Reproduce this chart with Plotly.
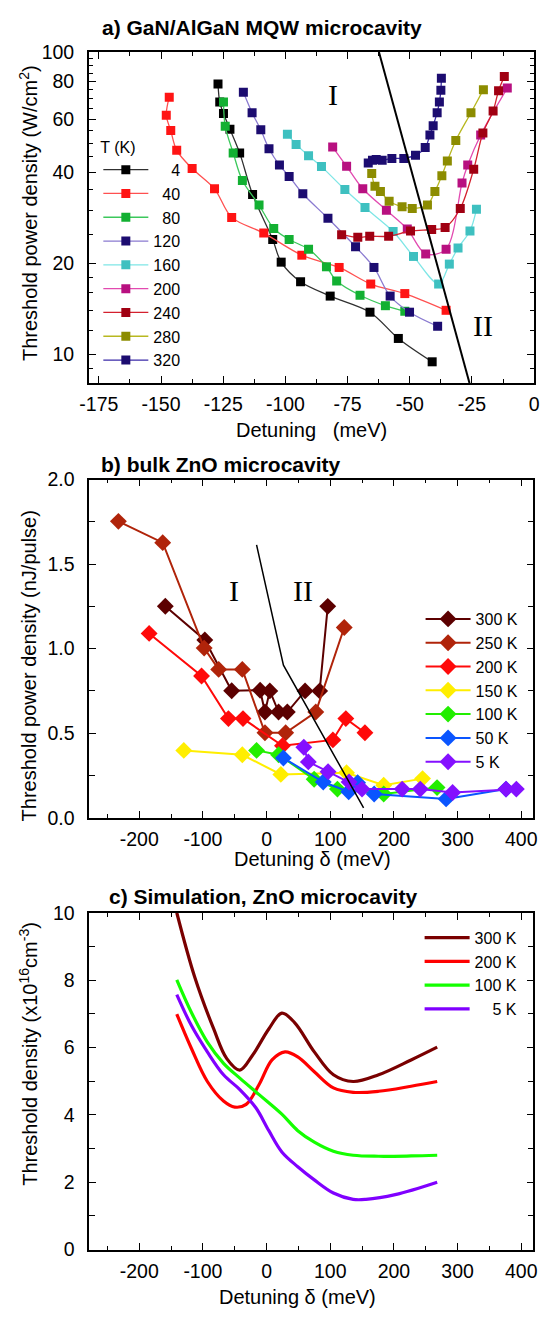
import math
import plotly.graph_objects as go

# ---------------- Panel a data (GaN/AlGaN MQW) ----------------
a_labels = ["\u2007\u20074", "\u200740", "\u200780", "120", "160", "200", "240", "280", "320"]
a_x = [
    [-127.1, -126.4, -124.9, -122.3, -118.4, -113.2, -105.1, -101.7, -93.9, -82.0, -66.0, -54.6, -41.0],
    [-146.7, -147.9, -146.1, -143.7, -137.5, -128.5, -121.6, -108.7, -93.4, -78.4, -65.7, -52.0, -35.4],
    [-124.9, -124.2, -121.0, -117.3, -110.6, -104.7, -98.5, -90.7, -83.5, -79.4, -70.0, -59.8, -52.0],
    [-116.9, -113.4, -109.9, -106.6, -102.4, -98.5, -93.0, -82.9, -71.8, -64.4, -57.9, -50.1, -38.8],
    [-99.2, -95.7, -90.7, -85.5, -76.1, -68.0, -56.7, -48.5, -38.4, -34.1, -30.6, -25.8, -23.2],
    [-81.0, -75.4, -68.9, -59.4, -51.0, -43.6, -35.4, -29.0, -26.7, -21.5, -10.8],
    [-77.4, -70.9, -66.1, -58.5, -49.7, -41.2, -35.8, -29.7, -24.3, -20.6, -16.5, -14.3, -12.0],
    [-65.3, -64.0, -61.8, -58.3, -53.1, -49.0, -42.9, -39.9, -37.1, -34.9, -31.5, -25.4, -20.4],
    [-66.7, -65.0, -63.5, -61.1, -57.2, -52.4, -47.7, -43.8, -41.9, -40.6, -39.0, -38.1, -37.5, -37.3],
]
a_y = [
    [78.4, 68.3, 62.6, 55.6, 46.4, 33.8, 24.0, 20.2, 17.4, 15.6, 13.8, 11.3, 9.46],
    [70.9, 61.8, 55.0, 47.3, 41.2, 35.3, 28.4, 25.2, 21.3, 19.4, 17.1, 15.9, 14.0],
    [68.3, 56.8, 46.4, 37.6, 31.2, 26.1, 24.0, 22.3, 19.5, 17.5, 15.7, 14.5, 13.9],
    [73.6, 63.0, 55.3, 47.9, 42.3, 38.8, 34.0, 28.2, 22.7, 19.4, 15.6, 13.8, 12.4],
    [53.5, 49.5, 45.4, 41.8, 35.1, 30.6, 25.5, 21.1, 17.1, 19.9, 22.5, 25.6, 30.2],
    [48.5, 41.9, 35.3, 30.0, 26.0, 21.5, 22.3, 36.9, 42.3, 53.2, 76.0],
    [24.9, 24.4, 24.6, 24.6, 25.6, 25.9, 26.3, 30.4, 41.0, 54.0, 63.8, 74.5, 83.0],
    [39.7, 36.0, 34.6, 32.1, 30.8, 30.4, 31.2, 34.6, 39.0, 43.6, 51.0, 63.0, 75.1],
    [43.0, 43.9, 44.1, 43.9, 44.5, 44.5, 45.6, 48.3, 53.2, 57.1, 63.0, 68.3, 74.7, 81.9],
]
a_marker_colors = ["#000000", "#ff1414", "#12b032", "#1c0c70", "#3ec0c0",
                   "#b81080", "#a00012", "#8c8c00", "#1c0c70"]
a_line_colors = ["#303030", "#ff5050", "#3cc85c", "#8a7ad0", "#7ee6e6",
                 "#e24ab0", "#d4202e", "#b8b820", "#3a2aa8"]
a_div_x = [-62.4, -26.0]
a_div_y = [100, 8.05]
a_xticks = [-175, -150, -125, -100, -75, -50, -25, 0]
a_xticktext = ["-175", "-150", "-125", "-100", "-75", "-50", "-25", "0"]
a_yticks = [10, 20, 40, 60, 80, 100]

# ---------------- Panel b data (bulk ZnO) ----------------
b_labels = ["300 K", "250 K", "200 K", "150 K", "100 K", "50 K", "5 K"]
b_x = [
    [-159.0, -97.0, -54.8, -10.1, -2.5, 5.1, 18.9, 32.6, 60.5, 83.4, 96.1],
    [-232.7, -163.1, -98.0, -75.2, -38.1, -2.5, 30.0, 77.3, 122.0],
    [-184.4, -102.1, -59.9, -37.0, 25.0, 104.2, 124.5, 154.5],
    [-130.0, -38.1, 22.4, 125.6, 184.0, 245.0],
    [-15.7, 18.9, 74.7, 111.3, 184.0, 267.8],
    [26.5, 89.0, 129.0, 143.0, 169.0, 282.0, 376.1],
    [58.5, 65.6, 96.6, 129.6, 149.9, 213.0, 241.4, 292.2, 376.1, 392.3],
]
b_y = [
    [1.251, 1.051, 0.751, 0.754, 0.625, 0.750, 0.625, 0.625, 0.750, 0.750, 1.250],
    [1.753, 1.627, 1.003, 0.877, 0.877, 0.502, 0.502, 0.625, 1.125],
    [1.090, 0.838, 0.586, 0.586, 0.425, 0.460, 0.586, 0.502],
    [0.398, 0.372, 0.256, 0.266, 0.192, 0.231],
    [0.398, 0.372, 0.227, 0.169, 0.140, 0.178],
    [0.353, 0.211, 0.153, 0.207, 0.140, 0.111, 0.169],
    [0.417, 0.330, 0.272, 0.211, 0.169, 0.169, 0.169, 0.149, 0.169, 0.169],
]
b_colors = ["#5c0000", "#b0240a", "#ff0a0a", "#ffee00", "#22ee00", "#0a55ff", "#8410ff"]
b_div_x = [-15.7, 26.5, 152.4]
b_div_y = [1.614, 0.902, 0.058]
bc_xticks = [-200, -100, 0, 100, 200, 300, 400]
bc_xticktext = ["-200", "-100", "0", "100", "200", "300", "400"]

# ---------------- Panel c data (simulation) ----------------
c_labels = ["300 K", "200 K", "100 K", "\u2007\u20075 K"]
c_x = [
    [-141, -113, -83, -62.5, -42, -22, 3.5, 24, 44, 75, 105, 136, 176, 227, 268],
    [-141, -118, -93, -67.6, -50, -32, -11.7, 8.6, 29, 49, 75, 105, 136, 176, 227, 268],
    [-141, -118, -93, -67.6, -42, -11.7, 24, 49, 75, 105, 136, 176, 227, 268],
    [-141, -118, -93, -67.6, -42, -16.8, 3.6, 24, 49, 75, 105, 136, 156, 202, 268],
]
c_y = [
    [10.0, 8.1, 6.55, 5.67, 5.33, 5.77, 6.55, 7.02, 6.74, 5.87, 5.19, 4.99, 5.19, 5.63, 6.01],
    [6.99, 5.97, 4.99, 4.41, 4.23, 4.31, 4.90, 5.63, 5.87, 5.72, 5.28, 4.80, 4.67, 4.70, 4.85, 4.99],
    [8.01, 7.04, 6.16, 5.53, 5.09, 4.60, 4.02, 3.53, 3.19, 2.92, 2.80, 2.77, 2.78, 2.80],
    [7.57, 6.65, 5.87, 5.19, 4.75, 4.21, 3.53, 2.90, 2.46, 2.07, 1.68, 1.49, 1.49, 1.63, 2.0],
]
c_colors = ["#7a0000", "#ff0000", "#14ff00", "#8000ff"]

# ---------------- figure ----------------
W, H = 545, 1324
FONT = "Liberation Sans, Arial, sans-serif"
SERIF = "Liberation Serif, Times New Roman, serif"


def px_x(p):
    return p / W


def px_y(p):
    return 1 - p / H


fig = go.Figure()

for lab, xs, ys, mc, lc in zip(a_labels, a_x, a_y, a_marker_colors, a_line_colors):
    fig.add_trace(go.Scatter(
        x=xs, y=ys, mode="lines+markers", name=lab, legend="legend",
        xaxis="x", yaxis="y",
        line=dict(color=lc, width=1.3, shape="spline", smoothing=0.9),
        marker=dict(symbol="square", size=9, color=mc, line=dict(width=0)),
    ))
fig.add_trace(go.Scatter(x=a_div_x, y=a_div_y, mode="lines", showlegend=False,
                         xaxis="x", yaxis="y", line=dict(color="black", width=2)))

for lab, xs, ys, col in zip(b_labels, b_x, b_y, b_colors):
    fig.add_trace(go.Scatter(
        x=xs, y=ys, mode="lines+markers", name=lab, legend="legend2",
        xaxis="x2", yaxis="y2",
        line=dict(color=col, width=2),
        marker=dict(symbol="diamond", size=13, color=col, line=dict(width=0)),
    ))
fig.add_trace(go.Scatter(x=b_div_x, y=b_div_y, mode="lines", showlegend=False,
                         xaxis="x2", yaxis="y2", line=dict(color="black", width=1.5)))

for lab, xs, ys, col in zip(c_labels, c_x, c_y, c_colors):
    fig.add_trace(go.Scatter(
        x=xs, y=ys, mode="lines", name=lab, legend="legend3",
        xaxis="x3", yaxis="y3",
        line=dict(color=col, width=3.2, shape="spline", smoothing=1.0),
    ))

axis_common = dict(
    showline=True, linecolor="black", linewidth=1.6, mirror="allticks",
    ticks="inside", ticklen=7, tickwidth=1.2, tickcolor="black",
    showgrid=False, zeroline=False,
    tickfont=dict(family=FONT, size=19.5, color="black"),
)
minor_common = dict(ticks="inside", tickcolor="black", tickwidth=1.1)

fig.update_layout(
    width=W, height=H, margin=dict(l=0, r=0, t=0, b=0),
    paper_bgcolor="white", plot_bgcolor="white",
    font=dict(family=FONT, color="black"),
    xaxis=dict(domain=[px_x(81.3), px_x(540)], range=[-179, 0], anchor="y",
               tickvals=a_xticks, ticktext=a_xticktext,
               minor=dict(tickvals=[-162.5, -137.5, -112.5, -87.5, -62.5, -37.5, -12.5],
                          ticklen=4, **minor_common),
               ticklabelstandoff=3, **axis_common),
    yaxis=dict(domain=[px_y(378.3), px_y(41.7)], type="log",
               range=[math.log10(8.05), 2], anchor="x",
               tickvals=a_yticks, ticktext=[str(v) for v in a_yticks],
               minor=dict(tickvals=[9, 12, 14, 16, 18, 25, 30, 35, 45, 50, 55, 65, 70, 75, 85, 90, 95],
                          ticklen=4, **minor_common),
               ticklabelstandoff=9, **axis_common),
    xaxis2=dict(domain=[px_x(81.7), px_x(539.3)], range=[-278.4, 419.2], anchor="y2",
                tickvals=bc_xticks, ticktext=bc_xticktext,
                minor=dict(dtick=50, tick0=0, ticklen=4, **minor_common),
                ticklabelstandoff=3, **axis_common),
    yaxis2=dict(domain=[px_y(820.3), px_y(476.5)], range=[0, 2.0], anchor="x2",
                tickvals=[0, 0.5, 1.0, 1.5, 2.0], ticktext=["0.0", "0.5", "1.0", "1.5", "2.0"],
                minor=dict(dtick=0.25, tick0=0, ticklen=6, **minor_common),
                ticklabelstandoff=9, **axis_common),
    xaxis3=dict(domain=[px_x(81.7), px_x(539.3)], range=[-278.4, 419.2], anchor="y3",
                tickvals=bc_xticks, ticktext=bc_xticktext,
                minor=dict(dtick=50, tick0=0, ticklen=4, **minor_common),
                ticklabelstandoff=3, **axis_common),
    yaxis3=dict(domain=[px_y(1259.5), px_y(917)], range=[0, 10], anchor="x3",
                tickvals=[0, 2, 4, 6, 8, 10], ticktext=["0", "2", "4", "6", "8", "10"],
                minor=dict(dtick=1, tick0=0, ticklen=6, **minor_common),
                ticklabelstandoff=9, **axis_common),
    legend=dict(x=px_x(91), y=px_y(123), xanchor="left", yanchor="top",
                bgcolor="rgba(0,0,0,0)", font=dict(family=FONT, size=16),
                title=dict(text="T (K)", font=dict(family=FONT, size=16)),
                itemwidth=45, tracegroupgap=0),
    legend2=dict(x=px_x(423), y=px_y(601), xanchor="left", yanchor="top",
                 bgcolor="rgba(0,0,0,0)", font=dict(family=FONT, size=16),
                 itemwidth=45, tracegroupgap=0),
    legend3=dict(x=px_x(422), y=px_y(925), xanchor="left", yanchor="top",
                 bgcolor="rgba(0,0,0,0)", font=dict(family=FONT, size=16),
                 itemwidth=45, tracegroupgap=0),
)

ann = []
# panel titles
ann.append(dict(text="<b>a) GaN/AlGaN MQW microcavity</b>", x=px_x(260), y=px_y(17),
                xref="paper", yref="paper", showarrow=False, xanchor="center", yanchor="middle",
                font=dict(family=FONT, size=21)))
ann.append(dict(text="<b>b) bulk ZnO microcavity</b>", x=px_x(92), y=px_y(461),
                xref="paper", yref="paper", showarrow=False, xanchor="left", yanchor="middle",
                font=dict(family=FONT, size=21)))
ann.append(dict(text="<b>c) Simulation, ZnO microcavity</b>", x=px_x(100), y=px_y(900),
                xref="paper", yref="paper", showarrow=False, xanchor="left", yanchor="middle",
                font=dict(family=FONT, size=21)))
# axis titles
ann.append(dict(text="Detuning\u00a0\u00a0\u00a0(meV)", x=px_x(311), y=px_y(426),
                xref="paper", yref="paper", showarrow=False, xanchor="center", yanchor="middle",
                font=dict(family=FONT, size=20)))
ann.append(dict(text="Detuning \u03b4 (meV)", x=px_x(312), y=px_y(862),
                xref="paper", yref="paper", showarrow=False, xanchor="center", yanchor="middle",
                font=dict(family=FONT, size=20)))
ann.append(dict(text="Detuning \u03b4 (meV)", x=px_x(296), y=px_y(1308),
                xref="paper", yref="paper", showarrow=False, xanchor="center", yanchor="middle",
                font=dict(family=FONT, size=20)))
ann.append(dict(text="Threshold power density (W/cm<sup>2</sup>)", x=px_x(19), y=px_y(205),
                xref="paper", yref="paper", showarrow=False, textangle=-90,
                xanchor="center", yanchor="middle", font=dict(family=FONT, size=20)))
ann.append(dict(text="Threshold power density (nJ/pulse)", x=px_x(19), y=px_y(666),
                xref="paper", yref="paper", showarrow=False, textangle=-90,
                xanchor="center", yanchor="middle", font=dict(family=FONT, size=20)))
ann.append(dict(text="Threshold density (x10<sup>16</sup>cm<sup>-3</sup>)", x=px_x(19), y=px_y(1060),
                xref="paper", yref="paper", showarrow=False, textangle=-90,
                xanchor="center", yanchor="middle", font=dict(family=FONT, size=20)))
# region labels
ann.append(dict(text="I", x=-80.8, y=math.log10(72.2), xref="x", yref="y", showarrow=False,
                font=dict(family=SERIF, size=30)))
ann.append(dict(text="II", x=-20.4, y=math.log10(12.5), xref="x", yref="y", showarrow=False,
                font=dict(family=SERIF, size=30)))
ann.append(dict(text="I", x=-51, y=1.342, xref="x2", yref="y2", showarrow=False,
                font=dict(family=SERIF, size=30)))
ann.append(dict(text="II", x=57, y=1.342, xref="x2", yref="y2", showarrow=False,
                font=dict(family=SERIF, size=30)))
fig.update_layout(annotations=ann)

fig.write_html("out.html")
